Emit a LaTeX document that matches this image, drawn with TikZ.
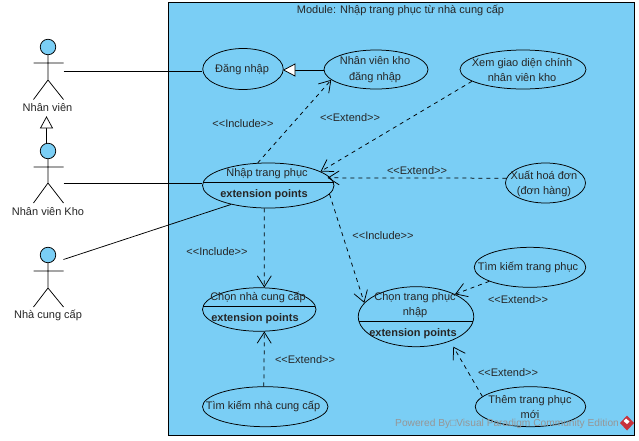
\documentclass[tikz,border=0pt]{standalone}
\usepackage{fontspec}
\setmainfont{Liberation Sans}
\usetikzlibrary{shapes.geometric,arrows.meta}
\definecolor{ucblue}{RGB}{122,206,245}
\definecolor{wm}{RGB}{150,150,150}
\definecolor{wmred}{RGB}{200,50,60}
\tikzset{
  uc/.style={draw=black,ellipse,fill=ucblue,inner sep=0pt,line width=0.75pt},
  txt/.style={inner sep=0pt,align=center,text=black!85,font=\fontsize{11}{15.5}\selectfont},
  bold/.style={txt,font=\fontsize{11}{15.5}\selectfont\bfseries},
  assoc/.style={draw=black,line width=0.75pt},
  dep/.style={draw=black,line width=0.75pt,dash pattern=on 4pt off 4pt,-{Straight Barb[length=11pt,width=14pt,line width=0.75pt]}},
  actorline/.style={draw=black,line width=0.75pt},
  head/.style={draw=black,circle,fill=ucblue,minimum size=15.5pt,inner sep=0pt,line width=0.75pt},
}
\begin{document}
\begin{tikzpicture}[x=1pt,y=-1pt]
\useasboundingbox (0,0) rectangle (639,440);
\fill[white] (0,0) rectangle (639,440);
\node[draw=black,fill=ucblue,line width=0.75pt,minimum width=466pt,minimum height=432.5pt,inner sep=0pt] (sys) at (401.5,218.75) {};
\node[txt] (systitle) at (400.5,10.5) {Module: Nhập trang phục từ nhà cung cấp};

% actors
\node[head] (h1) at (48,47) {};
\draw[actorline] (h1.south) -- (48,80) -- (33.5,99.5) (48,80) -- (63.5,99.5) (33.5,63) -- (63.5,63);
\node[txt] (l1) at (47.5,107.5) {Nhân viên};
\node[head] (h2) at (48,151) {};
\draw[actorline] (h2.south) -- (48,183) -- (33.5,203) (48,183) -- (63.5,203) (33.5,167) -- (63.5,167);
\node[txt] (l2) at (48,211.5) {Nhân viên Kho};
\node[head] (h3) at (48,255) {};
\draw[actorline] (h3.south) -- (48,288) -- (33.5,307) (48,288) -- (63.5,307) (33.5,271) -- (63.5,271);
\node[txt] (l3) at (48,315.5) {Nhà cung cấp};
\coordinate (a1) at (63.5,71);
\coordinate (a2) at (63.5,183);
\coordinate (a3) at (63.5,259.5);

% use cases
\node[uc,minimum width=80.5pt,minimum height=41pt] (login) at (243,69) {};
\node[uc,minimum width=104pt,minimum height=39pt] (nvkho) at (376,69.5) {};
\node[uc,minimum width=126pt,minimum height=39pt] (xem) at (523,69.5) {};
\node[uc,minimum width=131.5pt,minimum height=45pt] (nhap) at (268.25,185.5) {};
\node[uc,minimum width=80pt,minimum height=40pt] (xuat) at (545.5,183) {};
\node[uc,minimum width=113.5pt,minimum height=43.5pt] (ncc) at (259.25,309.5) {};
\node[uc,minimum width=125.5pt,minimum height=40pt] (timncc) at (265.25,406.7) {};
\node[uc,minimum width=115.5pt,minimum height=60pt] (chontp) at (416,316.7) {};
\node[uc,minimum width=111.5pt,minimum height=40pt] (timtp) at (530,267.3) {};
\node[uc,minimum width=110.5pt,minimum height=40pt] (them) at (530.5,406.7) {};

% compartment lines
\draw[assoc] (203,182.5) -- (333.5,182.5);
\draw[assoc] (203.2,306) -- (315.3,306);
\draw[assoc] (358.9,321) -- (473.1,321);

% use case texts
\node[txt] (t1) at (242,70) {Đăng nhập};
\node[txt] (t2) at (375,69.5) {Nhân viên kho\\đăng nhập};
\node[txt] (t3) at (522,70) {Xem giao diện chính\\nhân viên kho};
\node[txt] (t4) at (267,173.5) {Nhập trang phục};
\node[bold] (t5) at (264,195) {extension points};
\node[txt] (t6) at (544,184) {Xuất hoá đơn\\(đơn hàng)};
\node[txt] (t7) at (258,297.5) {Chọn nhà cung cấp};
\node[bold] (t8) at (255,319) {extension points};
\node[txt] (t9) at (263,406.5) {Tìm kiếm nhà cung cấp};
\node[txt] (t10) at (415,305) {Chọn trang phục\\nhập};
\node[bold] (t11) at (413,334) {extension points};
\node[txt] (t12) at (528,267.5) {Tìm kiếm trang phục};
\node[txt] (t13) at (530,407) {Thêm trang phục\\mới};

% associations
\draw[assoc] (a1) -- (a1 -| login.west);
\draw[assoc] (a2) -- (a2 -| nhap.west);
\draw[assoc] (a3) -- (nhap.207);

% generalizations
\coordinate (gtip) at (46.5,117);
\coordinate (gbase) at (46.5,128);
\draw[assoc] (h2.north -| gbase) -- (gbase);
\draw[assoc,fill=white] (gtip) -- (40.5,128) -- (52.5,128) -- cycle;
\coordinate (g2a) at (nvkho.west |- 0,70);
\coordinate (g2tip) at (login.east |- 0,70);
\coordinate (g2base) at (295,70);
\draw[assoc] (g2a) -- (g2base);
\draw[assoc,fill=white] (g2tip) -- (295,64) -- (295,76) -- cycle;

% dependencies
\coordinate (themtip) at (453.3,346.7);
\draw[dep] (nhap.115.6) -- (nvkho.193.7);
\draw[dep] (xem.193.5) -- (nhap.15.5);
\draw[dep,shorten >=-3pt] (xuat.173.4) -- (nhap.7);
\draw[dep] (nhap.260) -- (ncc.77.2);
\draw[dep] (timncc.94) -- (ncc.283);
\draw[dep] (nhap.352) -- (chontp.165.5);
\draw[dep] (timtp.199.8) -- (chontp.30.4);
\draw[dep] (them.168.4) -- (themtip);

% stereotype labels
\node[txt] (s1) at (243,123.5) {<{}<Include>{}>};
\node[txt] (s2) at (350,117.5) {<{}<Extend>{}>};
\node[txt] (s3) at (417,170.5) {<{}<Extend>{}>};
\node[txt] (s4) at (217,251.5) {<{}<Include>{}>};
\node[txt] (s5) at (383,235.5) {<{}<Include>{}>};
\node[txt] (s6) at (305,359.5) {<{}<Extend>{}>};
\node[txt] (s7) at (518,299.5) {<{}<Extend>{}>};
\node[txt] (s8) at (508,372.5) {<{}<Extend>{}>};

% watermark
\node[txt,text=wm,anchor=west,font=\fontsize{10.2}{12}\selectfont] (wmark) at (395,424) {Powered By□Visual Paradigm Community Edition};
\fill[wmred] (627,415.5) -- (634,423) -- (627,430.5) -- (620,423) -- cycle;
\fill[white] (626,418.5) -- (629.5,421.5) -- (627,424) -- (623.5,421) -- cycle;
\end{tikzpicture}
\end{document}
